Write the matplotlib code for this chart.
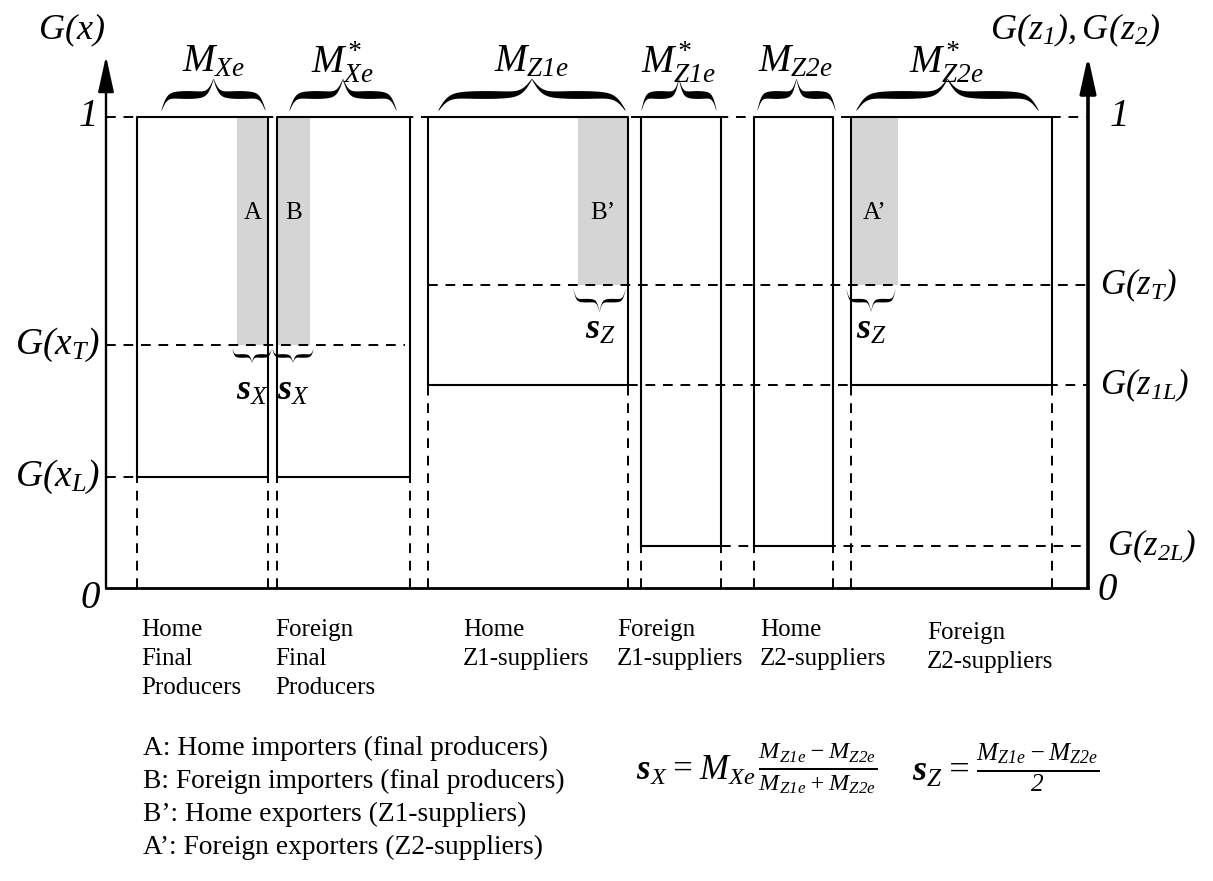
import numpy as np
import matplotlib.pyplot as plt

plt.rcParams['font.family'] = ['Liberation Serif', 'DejaVu Serif']
plt.rcParams['mathtext.fontset'] = 'custom'
plt.rcParams['mathtext.rm'] = 'Liberation Serif:italic'
plt.rcParams['mathtext.it'] = 'Liberation Serif:italic'
plt.rcParams['mathtext.bf'] = 'Liberation Serif:bold:italic'

# G levels (cdf values)
g_xT = 0.516
g_xL = 0.236
g_zT = 0.643
g_z1L = 0.43
g_z2L = 0.089

# boxes: one per group of firms
groups = ['Home\nFinal\nProducers', 'Foreign\nFinal\nProducers', 'Home\nZ1-suppliers',
          'Foreign\nZ1-suppliers', 'Home\nZ2-suppliers', 'Foreign\nZ2-suppliers']
box_left = [137, 277, 428, 641, 754, 851]
box_right = [268, 410, 628, 721, 833, 1052]
box_bottom = [g_xL, g_xL, g_z1L, g_z2L, g_z2L, g_z1L]
mass_labels = [r'$M_{Xe}$', r'$M_{Xe}^{*}$', r'$M_{Z1e}$', r'$M_{Z1e}^{*}$', r'$M_{Z2e}$', r'$M_{Z2e}^{*}$']

# shaded trading firms
shade_left = [237, 277, 578, 851]
shade_right = [268, 310, 628, 898]
shade_bottom = [g_xT, g_xT, g_zT, g_zT]
shade_labels = ['A', 'B', 'B\u2019', 'A\u2019']

legend_lines = ['A: Home importers (final producers)',
                'B: Foreign importers (final producers)',
                'B\u2019: Home exporters (Z1-suppliers)',
                'A\u2019: Foreign exporters (Z2-suppliers)']

W, H = 1213, 881
Y0, SC = 588, 471.0  # pixel row of G=0 and pixels per unit of G


def py(p):
    # pixel row -> G units (layout helper)
    return (Y0 - p) / SC


fig = plt.figure(figsize=(W / 100, H / 100), dpi=100)
ax = fig.add_axes([0, 0, 1, 1])
ax.set_xlim(0, W)
ax.set_ylim(py(H), py(0))
ax.axis('off')


def brace(x0, x1, yb, h, th):
    n = 200
    half = np.linspace(0, 1, n)
    beta = 18
    yh = 1 / (1 + np.exp(-beta * half)) + 1 / (1 + np.exp(-beta * (half - 1)))
    yh = (yh - yh[0]) / (yh[-1] - yh[0])
    xs = np.linspace(x0, x1, 2 * n)
    ys = yb + h * np.concatenate([yh, yh[::-1]])
    w = th * np.sin(np.pi * half) ** 0.6 + th * 0.12
    w = np.concatenate([w, w[::-1]])
    ax.fill_between(xs, ys - w / 2, ys + w / 2, color='k', lw=0)


DASH = dict(color='k', lw=1.4, ls=(0, (5, 4)))
SOLID = dict(color='k', lw=1.5)

# shaded regions
for l, r, b, lab in zip(shade_left, shade_right, shade_bottom, shade_labels):
    ax.fill_between([l, r], b, 1.0, color='#d5d5d5', lw=0)
    ax.text((l + r) / 2, py(213), lab, ha='center', va='center', fontsize=18)

# horizontal dashed guide lines
ax.plot([106, 1088], [1, 1], **DASH)
ax.plot([106, 405], [g_xT, g_xT], **DASH)
ax.plot([106, 137], [g_xL, g_xL], **DASH)
ax.plot([428, 1088], [g_zT, g_zT], **DASH)
ax.plot([628, 1088], [g_z1L, g_z1L], **DASH)
ax.plot([721, 1088], [g_z2L, g_z2L], **DASH)

# boxes
for l, r, b in zip(box_left, box_right, box_bottom):
    ax.plot([l, l, r, r, l], [b, 1, 1, b, b], **SOLID)
    ax.plot([l, l], [0, b], **DASH)
    ax.plot([r, r], [0, b], **DASH)

# braces over boxes and mass labels
pad_l = [24, 12, 10, 0, 3, 5]
pad_r = [3, 14, 3, 5, -2, 14]
for l, r, a, b, lab in zip(box_left, box_right, pad_l, pad_r, mass_labels):
    brace(l + a, r - b, py(110), py(79) - py(110), 7.0 / SC)
    ax.text((l + a + r - b) / 2, py(62), lab, ha='center', va='center', fontsize=28)

# small braces under the shaded areas
for l, r, b in zip(shade_left, shade_right, shade_bottom):
    hh = 13 if b == g_xT else 22
    brace(l - 5, r + 3 if b == g_xT else r - 3, b - 4 / SC, -hh / SC, 3.2 / SC)
    lab = r'$\mathbf{s}_{X}$' if b == g_xT else r'$\mathbf{s}_{Z}$'
    yl = b - (46 if b == g_xT else 45) / SC
    ax.text((l + r) / 2 + (0 if b == g_xT else -3), yl, lab, ha='center', va='center', fontsize=26)

# axes
ax.plot([106, 1088], [0, 0], color='k', lw=2.0)
ax.annotate('', xy=(106, py(56)), xytext=(106, 0),
            arrowprops=dict(arrowstyle='-|>,head_width=0.22,head_length=1.0', lw=1.7, color='k',
                            mutation_scale=22, shrinkA=0, shrinkB=0))
ax.annotate('', xy=(1088, py(56)), xytext=(1088, 0),
            arrowprops=dict(arrowstyle='-|>,head_width=0.22,head_length=1.0', lw=2.6, color='k',
                            mutation_scale=22, shrinkA=0, shrinkB=0))

# axis labels
ax.text(38, py(30), r'$G(x)$', ha='left', va='center', fontsize=26)
ax.text(990, py(30), r'$G(z_{1}), G(z_{2})$', ha='left', va='center', fontsize=26)
ax.text(87, 1, r'$1$', ha='center', va='center', fontsize=28)
ax.text(90, py(598), r'$0$', ha='center', va='center', fontsize=28)
ax.text(1118, 1, r'$1$', ha='center', va='center', fontsize=28)
ax.text(1107, py(590), r'$0$', ha='center', va='center', fontsize=28)
ax.text(100, g_xT, r'$G(x_{T})$', ha='right', va='center', fontsize=27)
ax.text(100, g_xL, r'$G(x_{L})$', ha='right', va='center', fontsize=27)
ax.text(1100, g_zT, r'$G(z_{T})$', ha='left', va='center', fontsize=25)
ax.text(1100, g_z1L, r'$G(z_{1L})$', ha='left', va='center', fontsize=25)
ax.text(1107, g_z2L, r'$G(z_{2L})$', ha='left', va='center', fontsize=25)

# group names under the axis
name_x = [141, 275, 463, 617, 760, 927]
name_top = [619, 619, 619, 619, 619, 622]
for x, t, s in zip(name_x, name_top, groups):
    ax.text(x, py(t), s, ha='left', va='top', fontsize=18, linespacing=1.42)

# legend text
for i, s in enumerate(legend_lines):
    ax.text(143, py(748 + i * 33), s, ha='left', va='center', fontsize=19.8)

# formulas
ax.text(636, py(768), r'$\mathbf{s}_{X} = M_{Xe}\,\frac{M_{Z1e} - M_{Z2e}}{M_{Z1e} + M_{Z2e}}$',
        ha='left', va='center', fontsize=25)
ax.text(912, py(768), r'$\mathbf{s}_{Z} = \frac{M_{Z1e} - M_{Z2e}}{2}$',
        ha='left', va='center', fontsize=26)

fig.savefig('out.png', dpi=100)
